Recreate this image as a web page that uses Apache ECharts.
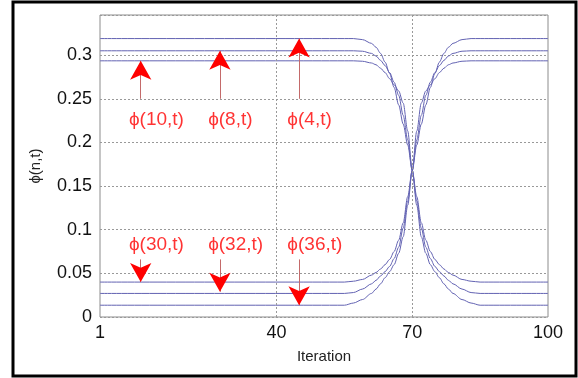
<!DOCTYPE html>
<html>
<head>
<meta charset="utf-8">
<script src="https://cdn.jsdelivr.net/npm/echarts@6/dist/echarts.min.js"></script>
<style>
  html, body { margin: 0; padding: 0; background: #fff; }
  #chart { width: 578px; height: 378px; }
</style>
</head>
<body>
<div id="chart"></div>
<script>
var iters = [1, 55, 57, 59, 61, 62, 63, 64, 65, 66, 67, 68, 69, 70, 71, 72, 73, 74, 75, 76, 77, 78, 79, 81, 83, 85, 100];

// falling curves (top left -> bottom right)
var fall1 = [0.319, 0.319, 0.319, 0.3178, 0.3135, 0.309, 0.302, 0.292, 0.279, 0.263, 0.243, 0.221, 0.197, 0.168, 0.128, 0.092, 0.073, 0.060, 0.052, 0.045, 0.038, 0.032, 0.027, 0.020, 0.016, 0.0135, 0.0135];
var fall2 = [0.305, 0.305, 0.305, 0.3045, 0.302, 0.299, 0.294, 0.288, 0.280, 0.269, 0.254, 0.231, 0.203, 0.168, 0.133, 0.102, 0.080, 0.067, 0.058, 0.052, 0.047, 0.042, 0.038, 0.032, 0.028, 0.027, 0.027];
var fall3 = [0.2935, 0.2935, 0.2935, 0.293, 0.291, 0.289, 0.285, 0.280, 0.273, 0.266, 0.259, 0.245, 0.213, 0.168, 0.138, 0.108, 0.088, 0.075, 0.066, 0.060, 0.055, 0.051, 0.048, 0.043, 0.041, 0.040, 0.040];

// rising curves (bottom left -> top right)
var rise1 = [0.0135, 0.0135, 0.016, 0.020, 0.027, 0.032, 0.038, 0.045, 0.052, 0.060, 0.073, 0.092, 0.128, 0.168, 0.197, 0.221, 0.243, 0.263, 0.279, 0.292, 0.302, 0.309, 0.3135, 0.3178, 0.319, 0.319, 0.319];
var rise2 = [0.027, 0.027, 0.028, 0.032, 0.038, 0.042, 0.047, 0.052, 0.058, 0.067, 0.080, 0.102, 0.133, 0.168, 0.203, 0.231, 0.254, 0.269, 0.280, 0.288, 0.294, 0.299, 0.302, 0.3045, 0.305, 0.305, 0.305];
var rise3 = [0.040, 0.040, 0.041, 0.043, 0.048, 0.051, 0.055, 0.060, 0.066, 0.075, 0.088, 0.108, 0.138, 0.168, 0.213, 0.245, 0.259, 0.266, 0.273, 0.280, 0.285, 0.289, 0.291, 0.293, 0.2935, 0.2935, 0.2935];

var xTicks = [1, 40, 70, 100];

// annotations
var arrowX = [10, 27.5, 45];
var upTail = 0.25;
var upTips = [0.2935, 0.305, 0.319];
var upNames = ['ϕ(10,t)', 'ϕ(8,t)', 'ϕ(4,t)'];
var downTail = 0.066;
var downTips = [0.040, 0.029, 0.0135];
var downNames = ['ϕ(30,t)', 'ϕ(32,t)', 'ϕ(36,t)'];
var labelX = [7.4, 24.9, 42.4];
var upLabelY = 0.226;
var downLabelY = 0.083;

function pairs(ys) {
  var out = [];
  for (var i = 0; i < iters.length; i++) out.push([iters[i], ys[i]]);
  return out;
}

var curves = [fall1, fall2, fall3, rise1, rise2, rise3];
var series = curves.map(function (c) {
  return {
    type: 'line',
    data: pairs(c),
    smooth: 0.3,
    smoothMonotone: 'x',
    symbol: 'none',
    lineStyle: { color: '#6262b2', width: 1 },
    silent: true
  };
});

var shafts = [], heads = [];
for (var i = 0; i < arrowX.length; i++) {
  shafts.push([{ coord: [arrowX[i], upTail] }, { coord: [arrowX[i], upTips[i]] }]);
  shafts.push([{ coord: [arrowX[i], downTail] }, { coord: [arrowX[i], downTips[i]] }]);
  heads.push({ coord: [arrowX[i], upTips[i]], symbolRotate: 0 });
  heads.push({ coord: [arrowX[i], downTips[i]], symbolRotate: 180 });
}
var vlines = [[{ coord: [40, 0] }, { coord: [40, 0.346] }], [{ coord: [70, 0] }, { coord: [70, 0.346] }]];

var labels = [];
for (var j = 0; j < labelX.length; j++) {
  labels.push({ value: [labelX[j], upLabelY], name: upNames[j] });
  labels.push({ value: [labelX[j], downLabelY], name: downNames[j] });
}

series.unshift({
  type: 'line',
  data: [],
  silent: true,
  markLine: {
    silent: true,
    symbol: 'none',
    label: { show: false },
    lineStyle: { color: '#999', type: [2, 2], width: 1 },
    data: vlines
  }
});

series.push({
  type: 'line',
  data: [],
  silent: true,
  markLine: {
    silent: true,
    symbol: 'none',
    label: { show: false },
    lineStyle: { color: '#c46a6a', type: 'solid', width: 1 },
    emphasis: { disabled: true },
    data: shafts
  },
  markPoint: {
    silent: true,
    symbol: 'arrow',
    symbolSize: [16, 19],
    label: { show: false },
    itemStyle: { color: '#ff0000' },
    data: heads
  }
});

series.push({
  type: 'scatter',
  data: labels,
  symbolSize: 0,
  silent: true,
  label: {
    show: true,
    position: 'right',
    distance: 0,
    formatter: '{b}',
    color: '#ff0000',
    fontFamily: 'Liberation Sans, Arial',
    fontSize: 19
  }
});

var chart = echarts.init(document.getElementById('chart'));
chart.setOption({
  animation: false,
  grid: {
    left: 100, right: 30, top: 15, bottom: 61,
    show: true, borderColor: '#8c8c8c', borderWidth: 1
  },
  xAxis: {
    type: 'value',
    min: 1,
    max: 100,
    name: 'Iteration',
    nameLocation: 'middle',
    nameGap: 32,
    nameTextStyle: { color: '#222', fontSize: 15, fontFamily: 'Liberation Sans, Arial' },
    axisLine: { show: false },
    axisTick: { show: false },
    splitLine: { show: false },
    axisLabel: {
      customValues: xTicks,
      color: '#111',
      fontSize: 18,
      margin: 7,
      fontFamily: 'Liberation Sans, Arial'
    }
  },
  yAxis: {
    type: 'value',
    min: 0,
    max: 0.346,
    interval: 0.05,
    name: 'ϕ(n,t)',
    nameLocation: 'middle',
    nameGap: 57,
    nameTextStyle: { color: '#222', fontSize: 15, fontFamily: 'Liberation Sans, Arial' },
    axisLine: { show: false },
    axisTick: { show: false },
    splitLine: { show: true, lineStyle: { color: '#999', type: [2, 2], width: 1 } },
    axisLabel: {
      color: '#111',
      fontSize: 18,
      margin: 8,
      showMaxLabel: false,
      fontFamily: 'Liberation Sans, Arial'
    }
  },
  graphic: [{
    type: 'rect',
    shape: { x: 13, y: 2, width: 563, height: 374 },
    style: { fill: 'none', stroke: '#000', lineWidth: 3 },
    silent: true
  }],
  series: series
});
</script>
</body>
</html>
